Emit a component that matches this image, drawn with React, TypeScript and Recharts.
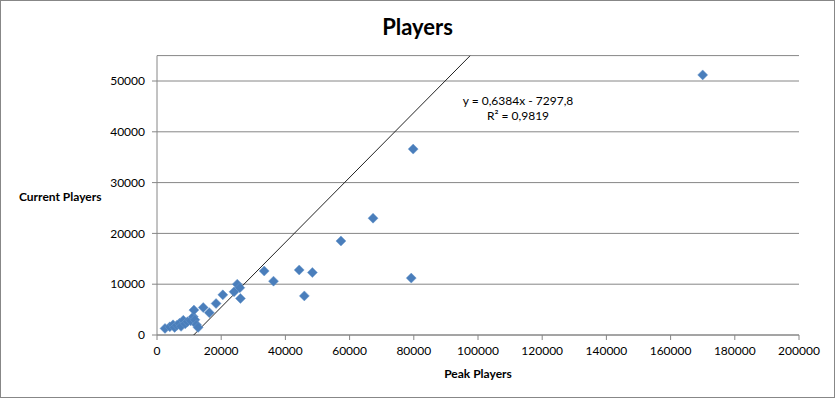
import { ScatterChart, Scatter, XAxis, YAxis, CartesianGrid } from 'recharts';

const peakPlayers = [
  2500, 4000, 5000, 5500, 6200, 7000, 7500, 8200, 8800, 9500, 10500, 11300, 11500, 11800, 12300,
  12800, 14400, 16300, 18400, 20500, 24000, 25000, 25800, 26000, 33400, 36300, 44300, 45900,
  48400, 57300, 67300, 79200, 79800, 170000,
];
const currentPlayers = [
  1300, 1600, 2000, 1500, 1900, 2300, 1700, 2900, 2200, 2600, 2800, 3600, 4900, 3000, 2000,
  1500, 5400, 4400, 6200, 7900, 8500, 10000, 9300, 7200, 12600, 10600, 12800, 7700,
  12300, 18500, 23000, 11200, 36600, 51200,
];

const xTicks = [0, 20000, 40000, 60000, 80000, 100000, 120000, 140000, 160000, 180000, 200000];
const yTicks = [0, 10000, 20000, 30000, 40000, 50000];

// linear trend shown on the chart: y = 0,6384x - 7297,8
const slope = 0.6384;
const intercept = -7297.8;
const yMax = 55000;

const points = peakPlayers.map((x, i) => ({ x, y: currentPlayers[i] }));
const trend = [
  { x: -intercept / slope, y: 0 },
  { x: (yMax - intercept) / slope, y: yMax },
];

const Diamond = (props: any) => {
  const { cx, cy } = props;
  if (cx == null || cy == null) return null;
  const r = 5;
  return (
    <path
      d={`M${cx},${cy - r}L${cx + r},${cy}L${cx},${cy + r}L${cx - r},${cy}Z`}
      fill="#4a7ebb"
      stroke="#6a98cc"
      strokeWidth={0.5}
    />
  );
};

const font = 'Lato, "Open Sans", sans-serif';

export default function App() {
  return (
    <div
      style={{
        position: 'absolute',
        left: 0,
        top: 0,
        width: 835,
        height: 398,
        boxSizing: 'border-box',
        border: '1px solid #878787',
        background: '#fff',
        fontFamily: font,
      }}
    >
      <ScatterChart
        width={833}
        height={396}
        margin={{ top: 54.6, right: 35, bottom: 32, left: 0 }}
        style={{ position: 'absolute', left: 0, top: 0 }}
      >
        <CartesianGrid vertical={false} stroke="#868686" strokeWidth={1} />
        <XAxis
          type="number"
          dataKey="x"
          domain={[0, 200000]}
          ticks={xTicks}
          interval={0}
          height={30}
          stroke="#868686"
          tickSize={5}
          tickMargin={6}
          tick={{ fill: '#000', fontSize: 12, fontFamily: font }}
          allowDataOverflow
        />
        <YAxis
          type="number"
          dataKey="y"
          domain={[0, yMax]}
          ticks={yTicks}
          interval={0}
          width={156}
          stroke="#868686"
          tickSize={5}
          tickMargin={7}
          tick={{ fill: '#000', fontSize: 12, fontFamily: font }}
          allowDataOverflow
        />
        <Scatter
          data={trend}
          line={{ stroke: '#222', strokeWidth: 1 }}
          shape={() => null}
          isAnimationActive={false}
        />
        <Scatter data={points} shape={<Diamond />} isAnimationActive={false} />
      </ScatterChart>
      <div
        style={{
          position: 'absolute',
          left: 0,
          width: 833,
          top: 12,
          textAlign: 'center',
          fontSize: 22,
          fontWeight: 'bold',
        }}
      >
        Players
      </div>
      <div
        style={{ position: 'absolute', left: 18, top: 188, fontSize: 12, fontWeight: 'bold' }}
      >
        Current Players
      </div>
      <div
        style={{
          position: 'absolute',
          left: 156,
          width: 642,
          top: 365,
          textAlign: 'center',
          fontSize: 12,
          fontWeight: 'bold',
        }}
      >
        Peak Players
      </div>
      <div
        style={{
          position: 'absolute',
          left: 437,
          width: 160,
          top: 92,
          textAlign: 'center',
          fontSize: 12,
          lineHeight: '15px',
        }}
      >
        y = 0,6384x - 7297,8
        <br />
        R² = 0,9819
      </div>
    </div>
  );
}
